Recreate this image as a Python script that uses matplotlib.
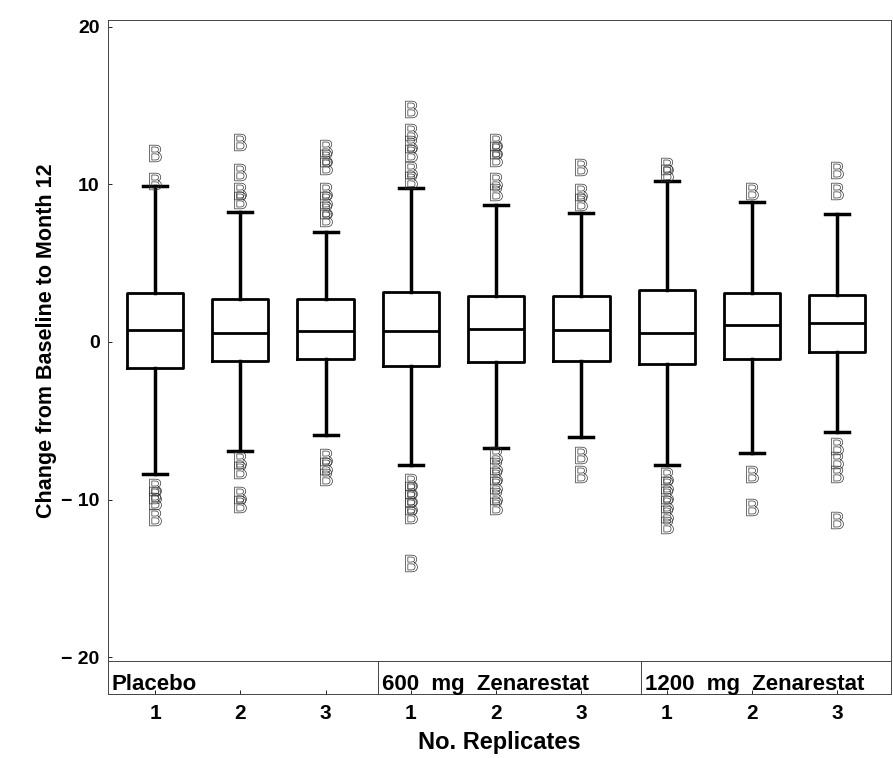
import matplotlib.pyplot as plt

plt.rcParams['font.family'] = ['Liberation Sans', 'DejaVu Sans']

groups = ["Placebo", "600  mg  Zenarestat", "1200  mg  Zenarestat"]
replicates = ["1", "2", "3", "1", "2", "3", "1", "2", "3"]

q1 = [-1.65, -1.2, -1.1, -1.5, -1.25, -1.2, -1.4, -1.1, -0.65]
med = [0.75, 0.6, 0.7, 0.7, 0.8, 0.75, 0.6, 1.1, 1.2]
q3 = [3.1, 2.7, 2.7, 3.2, 2.9, 2.9, 3.3, 3.1, 3.0]
whislo = [-8.4, -6.9, -5.9, -7.8, -6.7, -6.0, -7.8, -7.05, -5.7]
whishi = [9.9, 8.25, 7.0, 9.8, 8.7, 8.2, 10.2, 8.9, 8.1]
outliers = [
    [12.0, 10.2, -9.2, -9.7, -10.1, -11.1],
    [12.7, 10.8, 9.6, 9.0, -7.5, -8.1, -9.7, -10.3],
    [12.3, 11.7, 11.2, 9.6, 9.0, 8.4, 7.9, -7.3, -7.9, -8.6],
    [14.8, 13.3, 12.6, 12.0, 10.9, 10.3, -8.9, -9.4, -9.9, -10.4, -11.0, -14.0],
    [12.7, 12.2, 11.7, 10.2, 9.5, -7.2, -7.9, -8.5, -9.1, -9.8, -10.4],
    [11.1, 9.5, 8.9, -7.2, -8.4],
    [11.2, 10.7, -8.5, -9.1, -9.7, -10.3, -10.9, -11.6],
    [9.6, -8.4, -10.5],
    [10.9, 9.6, -6.6, -7.5, -8.4, -11.3],
]

stats = []
for i in range(len(med)):
    stats.append(dict(med=med[i], q1=q1[i], q3=q3[i], whislo=whislo[i],
                      whishi=whishi[i], fliers=outliers[i]))

fig = plt.figure(figsize=(8.93, 7.58), dpi=100)
ax = fig.add_axes([0.121, 0.128, 0.877, 0.8456])
strip = fig.add_axes([0.121, 0.0844, 0.877, 0.0436])

pos = list(range(1, 10))
ax.bxp(stats, positions=pos, widths=0.66, capwidths=0.28,
       boxprops=dict(color='black', linewidth=2),
       medianprops=dict(color='black', linewidth=2),
       whiskerprops=dict(color='black', linewidth=2.5),
       capprops=dict(color='black', linewidth=2.5),
       flierprops=dict(marker=r'$\mathrm{B}$', markersize=12,
                       markerfacecolor='none', markeredgecolor='#333333',
                       markeredgewidth=0.5, linestyle='none'))

ax.set_xlim(0.449, 9.633)
ax.set_ylim(-20.25, 20.44)
ax.set_yticks([-20, -10, 0, 10, 20])
ax.set_yticklabels(['\u2212 20', '\u2212 10', '0', '10', '20'],
                   fontsize=14, fontweight='bold')
ax.tick_params(axis='y', direction='in', length=3, width=0.6, pad=6)
ax.set_xticks([])
for s in ax.spines.values():
    s.set_linewidth(0.7)
    s.set_color('#444444')
ax.set_ylabel('Change from Baseline to Month 12', fontsize=15.5,
              fontweight='bold', labelpad=3)

strip.set_xlim(0.449, 9.633)
strip.set_ylim(0, 1)
strip.set_yticks([])
for s in strip.spines.values():
    s.set_linewidth(0.7)
    s.set_color('#444444')
for b in [3.62, 6.70]:
    strip.axvline(b, color='#444444', linewidth=0.7)
starts = [0.449, 3.62, 6.70]
for g, x0 in zip(groups, starts):
    strip.text(x0 + 0.04, 0.12, g, fontsize=16, fontweight='bold',
               ha='left', va='baseline')
strip.set_xticks(pos)
strip.set_xticklabels(replicates, fontsize=15, fontweight='bold')
strip.tick_params(axis='x', direction='in', length=3, width=0.6, pad=7)
strip.set_xlabel('No. Replicates', fontsize=17, fontweight='bold', labelpad=6)

fig.savefig('out.png', dpi=100)
